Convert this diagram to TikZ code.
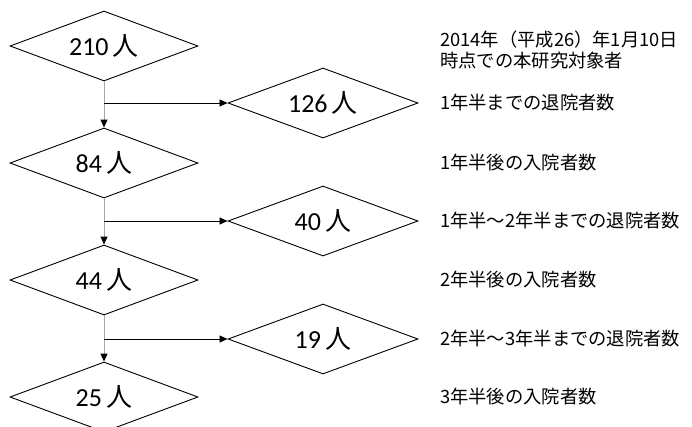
\documentclass[tikz,border=0pt]{standalone}
\usepackage{fontspec}
\setmainfont{Noto Sans CJK JP}
\newfontfamily\numfont{Carlito}
\newfontfamily\cjkfont{Noto Sans CJK JP}
\usetikzlibrary{shapes.geometric,arrows.meta}
\begin{document}
\begin{tikzpicture}[x=1pt,y=-1pt,
  dia/.style={diamond,draw,line width=0.9pt,minimum width=188pt,minimum height=70pt,aspect=2.7,inner sep=0pt,font=\fontsize{26}{30}\selectfont},
  lab/.style={anchor=west,font=\fontsize{18.3}{21}\selectfont,inner sep=0pt,align=left},
  downarr/.style={draw=gray!70,line width=1pt,-{Triangle[length=8pt,width=7pt,color=black]}},
  sidearr/.style={draw=black,line width=0.7pt,-{Triangle[length=8pt,width=7pt]}}]
\useasboundingbox (0,0) rectangle (692,426);
\clip (0,0) rectangle (692,426);
% left column
\node[dia] (d210) at (104,46) {\numfont 210\,\cjkfont 人};
\node[dia] (d84)  at (104,163) {\numfont 84\,\cjkfont 人};
\node[dia] (d44)  at (104,280) {\numfont 44\,\cjkfont 人};
\node[dia] (d25)  at (104,397) {\numfont 25\,\cjkfont 人};
% right column
\node[dia,minimum width=190pt] (r126) at (323,103) {\numfont 126\,\cjkfont 人};
\node[dia,minimum width=190pt] (r40)  at (323,221) {\numfont 40\,\cjkfont 人};
\node[dia,minimum width=190pt] (r19)  at (323,339) {\numfont 19\,\cjkfont 人};
% connectors
\draw[downarr] (d210.south) -- (d84.north);
\draw[downarr] (d84.south) -- (d44.north);
\draw[downarr] (d44.south) -- (d25.north);
\draw[sidearr] (d210.south |- r126.west) -- (r126.west);
\draw[sidearr] (d84.south |- r40.west) -- (r40.west);
\draw[sidearr] (d44.south |- r19.west) -- (r19.west);
% labels
\node[lab] (t1) at (440,49.5) {2014年（平成26）年1月10日\\時点での本研究対象者};
\node[lab] (t2) at (440,103) {1年半までの退院者数};
\node[lab] (t3) at (440,163) {1年半後の入院者数};
\node[lab] (t4) at (440,221) {1年半～2年半までの退院者数};
\node[lab] (t5) at (440,280) {2年半後の入院者数};
\node[lab] (t6) at (440,339) {2年半～3年半までの退院者数};
\node[lab] (t7) at (440,397) {3年半後の入院者数};
\end{tikzpicture}
\end{document}
